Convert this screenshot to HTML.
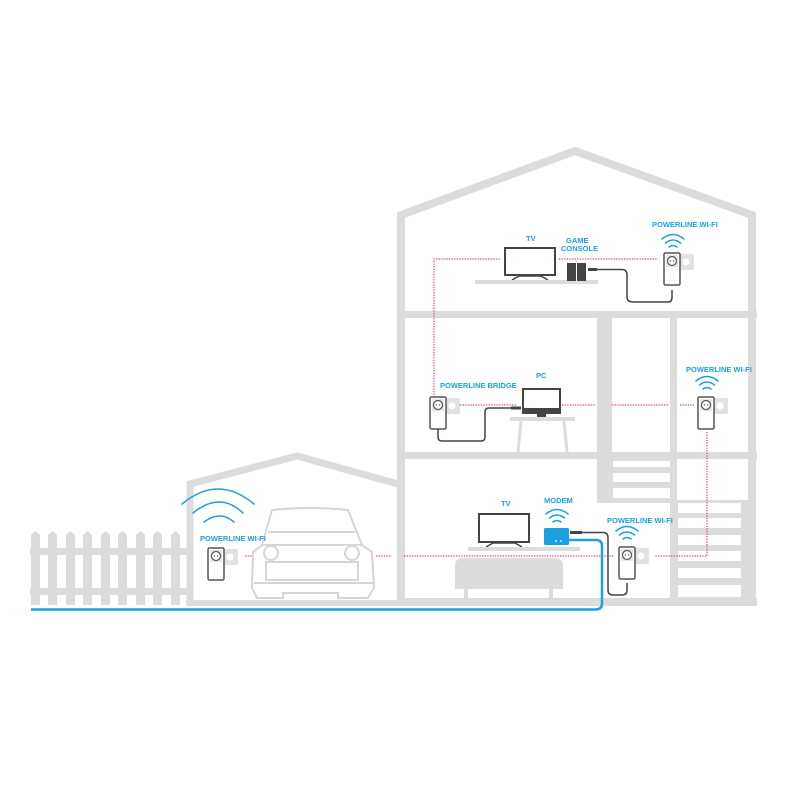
<!DOCTYPE html>
<html><head><meta charset="utf-8"><style>
html,body{margin:0;padding:0;background:#fff;}
svg{display:block}
text{font-family:"Liberation Sans",sans-serif;font-weight:bold;fill:#1ba1e2;font-size:7.5px;}
</style></head><body>
<svg width="800" height="800" viewBox="0 0 800 800" xmlns="http://www.w3.org/2000/svg">
<defs>
<g id="plug">
  <rect x="14" y="1" width="16" height="16" rx="2" fill="#e2e2e2"/>
  <circle cx="22" cy="9" r="3.5" fill="#fff"/>
  <rect x="0" y="0" width="16" height="32" rx="1.5" fill="#fff" stroke="#555" stroke-width="1.5"/>
  <rect x="2" y="2" width="12" height="12" fill="#e6e6e6"/>
  <circle cx="8" cy="8" r="4.5" fill="#fff" stroke="#555" stroke-width="1.2"/>
  <circle cx="6.5" cy="8" r="0.7" fill="#555"/><circle cx="9.5" cy="8" r="0.7" fill="#555"/>
</g>
<g id="wifi" fill="none" stroke="#1ba1e2" stroke-width="1.5" stroke-linecap="round">
  <path d="M-11,-6 Q0,-15 11,-6"/>
  <path d="M-7.5,-2 Q0,-8 7.5,-2"/>
  <path d="M-4,2 Q0,-1 4,2"/>
</g>
</defs>

<!-- Garage -->
<path d="M190,605 L190,484 L297,456 L398,484" fill="none" stroke="#dcdcdc" stroke-width="7"/>
<rect x="186" y="600" width="220" height="6" fill="#dcdcdc"/>

<!-- Fence -->
<g fill="#dcdcdc">
  <rect x="30" y="548" width="162" height="7"/>
  <rect x="30" y="588" width="162" height="7"/>
  <g id="posts">
  <path d="M31,535 L35.5,531 L40,535 L40,605 L31,605Z"/>
  <path d="M48,535 L52.5,531 L57,535 L57,605 L48,605Z"/>
  <path d="M66,535 L70.5,531 L75,535 L75,605 L66,605Z"/>
  <path d="M83,535 L87.5,531 L92,535 L92,605 L83,605Z"/>
  <path d="M101,535 L105.5,531 L110,535 L110,605 L101,605Z"/>
  <path d="M118,535 L122.5,531 L127,535 L127,605 L118,605Z"/>
  <path d="M136,535 L140.5,531 L145,535 L145,605 L136,605Z"/>
  <path d="M153,535 L157.5,531 L162,535 L162,605 L153,605Z"/>
  <path d="M171,535 L175.5,531 L180,535 L180,605 L171,605Z"/>
  </g>
</g>

<!-- Main house outline -->
<path d="M401,605 L401,215 L575,151 L752,215 L752,605" fill="none" stroke="#dcdcdc" stroke-width="8"/>
<rect x="397" y="311" width="360" height="7" fill="#dcdcdc"/>
<rect x="397" y="452" width="360" height="7" fill="#dcdcdc"/>
<rect x="397" y="598" width="360" height="8" fill="#dcdcdc"/>
<!-- stair blocks -->
<rect x="597" y="318" width="15" height="185" fill="#dcdcdc"/>
<rect x="612" y="459" width="60" height="44" fill="#dcdcdc"/>
<g fill="#fff">
  <rect x="613" y="461" width="57" height="6"/>
  <rect x="613" y="473" width="57" height="9"/>
  <rect x="613" y="488" width="57" height="10"/>
</g>
<rect x="670" y="318" width="7" height="285" fill="#dcdcdc"/>
<rect x="677" y="500" width="72" height="100" fill="#dcdcdc"/>
<g fill="#fff">
  <rect x="678" y="503" width="63" height="10"/>
  <rect x="678" y="518" width="63" height="10"/>
  <rect x="678" y="535" width="63" height="10"/>
  <rect x="678" y="551" width="63" height="10"/>
  <rect x="678" y="568" width="63" height="10"/>
  <rect x="678" y="585" width="63" height="12"/>
</g>

<!-- Pink dotted lines -->
<g fill="none" stroke="#e8418c" stroke-width="1.3" stroke-dasharray="1.3 1.3">
  <path d="M434,400 L434,259 L500,259"/>
  <path d="M559,259 L658,259"/>
  <path d="M460,405 L517,405"/>
  <path d="M562,405 L595,405 M612,405 L669,405 M680,405 L694,405"/>
  <path d="M707,432 L707,556 L655,556"/>
  <path d="M404,556 L614,556"/>
  <path d="M245,556 L252,556 M376,556 L392,556"/>
</g>

<!-- Blue line -->
<path d="M31,609.5 L596,609.5 Q602,609.5 602,603 L602,546 Q602,540 596,540 L569,540" fill="none" stroke="#1ba1e2" stroke-width="2.5"/>

<!-- Car -->
<g fill="none" stroke="#d6d6d6" stroke-width="2">
  <path d="M272,510 Q310,506 348,510 L362,545 L372,552 L374,588 L368,598 L338,598 L338,593 L283,593 L283,598 L257,598 L252,588 L253,552 L262,545 Z"/>
  <path d="M268,532 L355,532"/>
  <path d="M262,545 L362,545"/>
  <path d="M266,562 L358,562 L358,580 L266,580 Z"/>
  <path d="M254,583 L373,583"/>
  <circle cx="271" cy="553" r="7"/><circle cx="352" cy="553" r="7"/>
</g>

<!-- Garage wifi -->
<g fill="none" stroke="#1ba1e2" stroke-width="1.5" stroke-linecap="round">
  <path d="M182,504 Q218,474 254,504"/>
  <path d="M193,513 Q220,491 243,513"/>
  <path d="M204,522 Q220,510 234,522"/>
</g>
<text x="200" y="541">POWERLINE WI-FI</text>
<use href="#plug" x="208" y="548"/>

<!-- Top floor -->
<text x="526" y="241">TV</text>
<text x="566" y="243">GAME</text>
<text x="561" y="251">CONSOLE</text>
<rect x="505" y="248" width="50" height="27" fill="#fff" stroke="#444" stroke-width="2"/>
<path d="M512,280 L519,276 L541,276 L548,280" fill="none" stroke="#444" stroke-width="1.5"/>
<rect x="475" y="280" width="123" height="4" fill="#dcdcdc"/>
<rect x="567" y="263" width="19" height="18" fill="#444"/>
<rect x="576" y="263" width="1" height="18" fill="#fff"/>
<rect x="588" y="268" width="9" height="3" fill="#444"/>
<path d="M597,269.5 L622,269.5 Q627,269.5 627,275 L627,297 Q627,302 633,302 L668,302 Q672,302 672,297 L672,290" fill="none" stroke="#444" stroke-width="1.5"/>
<text x="652" y="227">POWERLINE WI-FI</text>
<use href="#wifi" x="673" y="245"/>
<use href="#plug" x="664" y="253"/>

<!-- Middle floor -->
<text x="440" y="388">POWERLINE BRIDGE</text>
<text x="536" y="378">PC</text>
<use href="#plug" x="430" y="397"/>
<path d="M438,429 L438,437 Q438,441 442,441 L481,441 Q485,441 485,437 L485,412 Q485,408 489,408 L511,408" fill="none" stroke="#444" stroke-width="1.5"/>
<rect x="511" y="406.5" width="10" height="3" fill="#444"/>
<rect x="523" y="389" width="37" height="24" fill="#fff" stroke="#444" stroke-width="2"/>
<rect x="523" y="408" width="37" height="5" fill="#444"/>
<rect x="537" y="413" width="9" height="4" fill="#444"/>
<rect x="510" y="417" width="65" height="4" fill="#dcdcdc"/>
<path d="M521,421 L518,452 M564,421 L567,452" stroke="#dcdcdc" stroke-width="3"/>
<text x="686" y="372">POWERLINE WI-FI</text>
<use href="#wifi" x="707" y="387"/>
<use href="#plug" x="698" y="397"/>

<!-- Ground floor -->
<text x="501" y="506">TV</text>
<text x="544" y="503">MODEM</text>
<rect x="479" y="514" width="50" height="28" fill="#fff" stroke="#444" stroke-width="2"/>
<path d="M486,547 L493,543 L515,543 L522,547" fill="none" stroke="#444" stroke-width="1.5"/>
<rect x="468" y="547" width="112" height="4" fill="#dcdcdc"/>
<use href="#wifi" x="557" y="520"/>
<rect x="544" y="528" width="25" height="17" rx="1.5" fill="#1ba1e2"/>
<circle cx="556" cy="541" r="0.9" fill="#fff"/><circle cx="561" cy="541" r="0.9" fill="#fff"/>
<rect x="570" y="531" width="12" height="3" fill="#444"/>
<path d="M582,532.5 L603,532.5 Q608,532.5 608,538 L608,590 Q608,595 613,595 L622,595 Q627,595 627,590 L627,583" fill="none" stroke="#444" stroke-width="1.5"/>
<path d="M455,566 Q455,558 463,558 L555,558 Q563,558 563,566 L563,589 L455,589 Z" fill="#dcdcdc"/>
<rect x="464" y="589" width="4" height="9" fill="#dcdcdc"/>
<rect x="549" y="589" width="4" height="9" fill="#dcdcdc"/>
<text x="607" y="523">POWERLINE WI-FI</text>
<use href="#wifi" x="627" y="537"/>
<use href="#plug" x="619" y="547"/>
</svg>
</body></html>
